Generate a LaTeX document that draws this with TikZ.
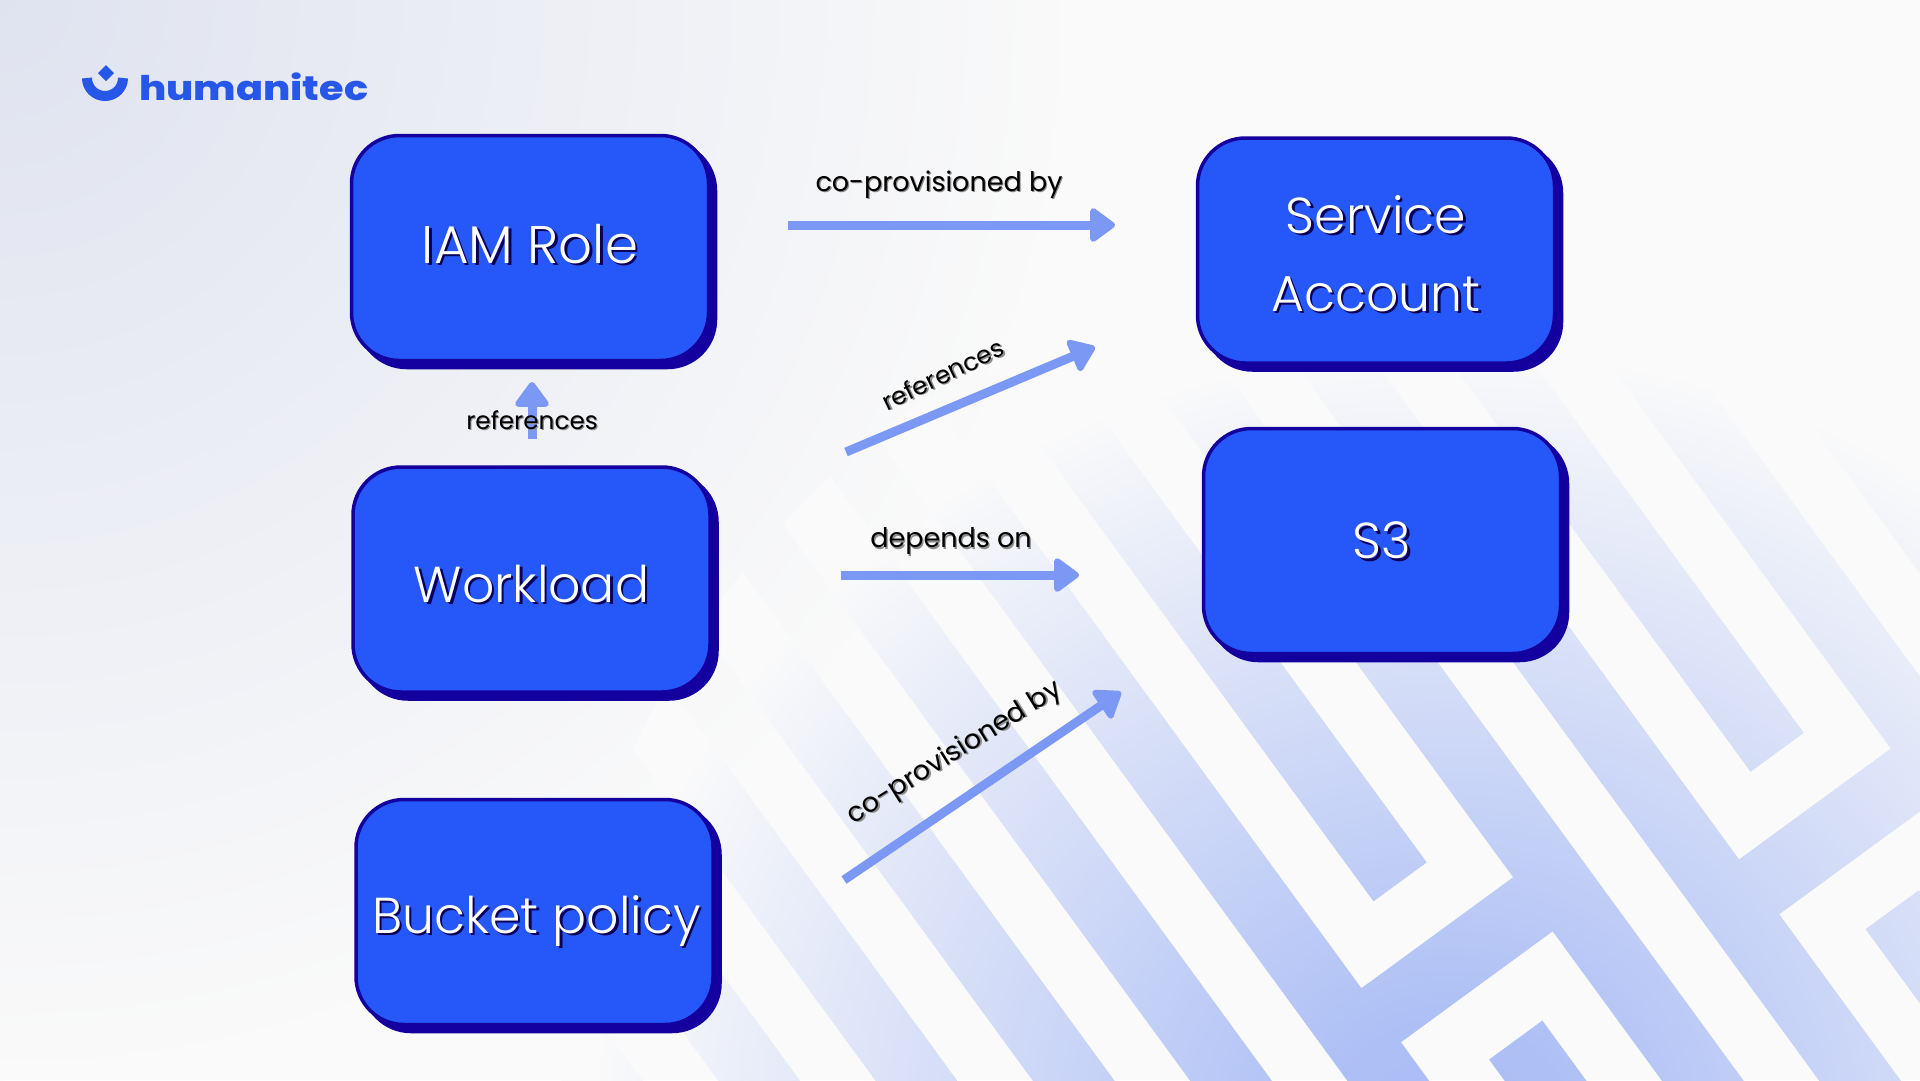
\documentclass[tikz,border=0pt]{standalone}
\usepackage{fontspec}
\setmainfont{Poppins Light}
\newfontfamily\labelfont{Poppins}
\newfontfamily\logofont[FakeStretch=1.17]{Poppins ExtraBold}
\usetikzlibrary{arrows.meta,shadows}
\definecolor{boxfill}{HTML}{2657F8}
\definecolor{boxedge}{HTML}{14009E}
\definecolor{linkblue}{HTML}{7B98F5}
\definecolor{logoblue}{HTML}{2657E8}
\definecolor{pagebase}{HTML}{FAFAFA}
\pgfdeclareradialshading{bgglow}{\pgfpoint{0bp}{0bp}}{rgb(0bp)=(0.875,0.89,0.94); rgb(25bp)=(0.98,0.98,0.98); rgb(50bp)=(0.98,0.98,0.98)}
\pgfdeclareradialshading{bandglow}{\pgfpoint{0bp}{0bp}}{rgb(0bp)=(0.67,0.74,0.96); rgb(3bp)=(0.68,0.75,0.96); rgb(21bp)=(0.98,0.98,0.98); rgb(50bp)=(0.98,0.98,0.98)}
\newcommand{\whiteshad}[2]{\smash{\raisebox{-#1pt}{\leavevmode\rlap{\kern2.5pt\raisebox{-2.5pt}{\color{boxedge!55!black}#2}}{\color{white}#2}}}}
\newcommand{\greyshad}[1]{\leavevmode\rlap{\kern1.2pt\raisebox{-1.2pt}{\color{black!45}#1}}{\color{black}#1}}
\tikzset{
  box/.style={draw=boxedge,line width=3.5pt,fill=boxfill,rounded corners=48pt,
    minimum width=357pt,minimum height=225pt,inner sep=0pt,font=\fontsize{50.5}{78}\selectfont,align=center,
    general shadow={shadow xshift=7pt,shadow yshift=-7pt,fill=boxedge,draw=boxedge,opacity=1}},
  link/.style={draw=linkblue,line width=9pt,-{Triangle[length=27pt,width=38pt,line width=6pt,round]}},
  linktext/.style={font=\fontsize{27}{32}\labelfont,inner sep=0pt},
  smalltext/.style={font=\fontsize{24.7}{30}\labelfont,inner sep=0pt},
}
\begin{document}
\begin{tikzpicture}[x=1pt,y=-1pt]
\useasboundingbox (0,0) rectangle (1920,1080);
\begin{scope}
  \clip (0,0) rectangle (1920,1080);
  \fill[pagebase] (0,0) rectangle (1920,1080);
  \shade[shading=bgglow] (0,0) circle (1080);
  \begin{scope}[cm={-0.59,0.807,0.807,0.59,(875pt,-1080pt)},x=1pt,y=1pt]
    \clip (-900,-254) rectangle (1300,-188)
          (-900,-127) rectangle (1300,-61)
          (-900,0) rectangle (1300,66)
          (-900,127) rectangle (1300,193)
          (-900,254) rectangle (1300,320)
          (-900,381) rectangle (1300,447)
          (-150,508) rectangle (1300,574)
          (-900,508) rectangle (-346,574)
          (-280,447) rectangle (-213,635)
          (-900,635) rectangle (1300,701)
          (-900,762) rectangle (1300,828)
          (-268,889) rectangle (1300,955)
          (-900,889) rectangle (-463,955)
          (-400,828) rectangle (-332,1016)
          (-900,1016) rectangle (1300,1082)
          (-900,1143) rectangle (1300,1209)
          (-900,1270) rectangle (1300,1336)
          (-900,1397) rectangle (1300,1463);
    \shade[shading=bandglow] (-379,434) circle (900);
  \end{scope}
\end{scope}

% logo
\draw[logoblue,line width=10pt] (87,78) .. controls (87,88) and (95,96) .. (105,96) .. controls (115,96) and (123,88) .. (123,78);
\fill[logoblue] (106,65) -- (114,73) -- (106,81) -- (98,73) -- cycle;
\node[anchor=base west,inner sep=0pt,text=logoblue,font=\fontsize{34}{36}\logofont] (logo) at (139,100) {humanitec};

% boxes
\node[box] (iam) at (530,248) {\fontsize{53}{78}\selectfont\whiteshad{15}{IAM Role}};
\node[box] (workload) at (531.5,579.5) {\whiteshad{22.5}{Workload}};
\node[box] (bucket) at (534.5,912) {\hspace*{4pt}\whiteshad{21}{Bucket policy}};
\node[box] (service) at (1376,250.5) {\whiteshad{21.5}{Service}\\\whiteshad{21.5}{Account}};
\node[box] (sthree) at (1382,541) {\whiteshad{17.5}{S3}};

% connector ends
\coordinate (a1) at (788,225); \coordinate (b1) at (1115,225);
\coordinate (a2) at (846,452); \coordinate (b2) at (1095,347);
\coordinate (a3) at (841,575); \coordinate (b3) at (1079,575);
\coordinate (a4) at (844,880); \coordinate (b4) at (1121,692);
\coordinate (a5) at (532,439); \coordinate (b5) at (532,382);
\draw[link] (a1) -- (b1);
\draw[link] (a2) -- (b2);
\draw[link] (a3) -- (b3);
\draw[link] (a4) -- (b4);
\draw[link] (a5) -- (b5);

% labels
\node[linktext] (l1) at (939,185) {\greyshad{co-provisioned by}};
\node[smalltext,rotate=25.7] (l2) at (943,375) {\greyshad{references}};
\node[linktext] (l3) at (951,542) {\greyshad{depends on}};
\node[linktext,rotate=32] (l4) at (955,754) {\greyshad{co-provisioned by}};
\node[smalltext] (l5) at (532,421) {\greyshad{references}};
\end{tikzpicture}
\end{document}
